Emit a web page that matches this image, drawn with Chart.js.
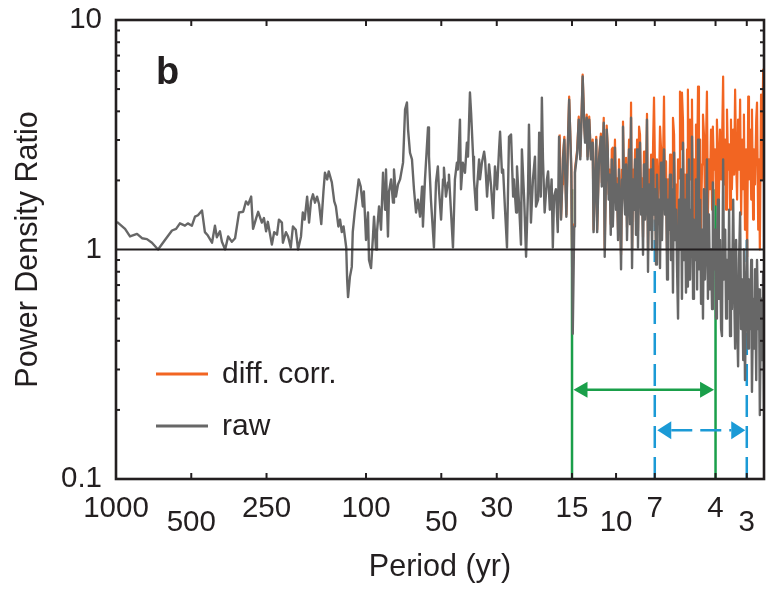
<!DOCTYPE html>
<html>
<head>
<meta charset="utf-8">
<script src="https://cdn.jsdelivr.net/npm/chart.js@4.4.1/dist/chart.umd.min.js"></script>
<style>
html,body{margin:0;padding:0;background:#ffffff;}
#wrap{width:766px;height:590px;position:relative;}
</style>
</head>
<body>
<div id="wrap"><canvas id="c" width="766" height="590"></canvas></div>
<script>
// ---------------- data ----------------
const rawPeriod = [
991,920,879,824,787,752,718,679,637,597,575,555,530,516,497,483,470,453,441,429,
413,402,395,384,377,366,356,344,334,322,310,302,296,288,283,275,270,261,256,251,
247,238,233,227,223,
217,215,209,205,200,196,191,187,182,179,176,172,169,166,163,160,157,154,151,148,
146,143,141,137,134,132,129,127,125,123,120,119,118,116,114,113,111,109,107,105,
103,102,100,98.2,97.3,95.5,93.8,92.9,91.2,90.4,88.7,87.1,85.5,83.9,83.2,81.7,80.9,79.4,78.0,77.3,
75.9,74.5,73.1,
71.1,69.8,68.6,67.9,66.7,65.5,64.3,63.1,62.0,60.8,59.7,59.2,58.1,56.5,56.0,55.0,53.5,52.5,51.6,51.1,
50.1,49.2,48.8,47.9,47.0,46.6,45.7,44.9,44.1,43.3,42.9,42.1,41.7,41.0,40.2,39.5,39.1,38.4,38.0,37.3,
37.0,36.3,36.0,35.3,35.0,34.4,33.7,33.4,32.8,32.2,31.6,31.0,30.5,29.9,29.4,29.1,28.6,28.3,27.8,27.3,
26.8,26.3,25.8,25.6,25.1,24.9,24.4,24.0,23.8,23.3,22.9,22.5,22.3,21.9,21.5,21.1,20.9,20.5,20.3,20.0,
19.8,19.6,19.3,18.9,18.7,18.4,18.1,17.9,17.7,17.4,17.1,16.9,16.6,16.3,16.1,15.8,15.6,15.4,15.1,15.0,
14.9,14.7,14.6,14.3,14.1,13.9,13.7,13.6,13.4,13.3,13.1,13.0,12.8,12.6,12.4,12.3,12.0,11.9,11.7,11.5,
11.4,11.2,11.1,10.9,10.8,
10.7,10.6,10.5,10.4,10.3,10.2,10.1,10.0,9.91,9.82,9.73,9.64,9.55,9.46,9.38,9.29,9.20,9.12,9.04,8.95,
8.87,8.79,8.71,8.63,8.55,8.47,8.39,8.32,8.24,8.17,8.09,8.02,7.94,7.87,7.80,7.73,7.66,7.59,7.52,7.45,
7.38,7.31,7.24,7.18,7.11,7.05,6.98,6.92,6.86,6.79,6.73,6.67,6.61,6.55,6.49,6.43,6.37,6.31,6.25,6.20,
6.14,6.08,6.03,5.97,5.92,5.86,5.81,5.75,5.70,5.65,5.60,5.55,5.50,5.45,5.40,5.35,5.30,5.25,5.20,5.16,
5.11,5.06,5.01,4.97,4.92,4.88,4.83,4.79,4.74,4.70,4.66,4.61,4.57,4.53,4.49,4.45,4.41,4.37,4.33,4.29,
4.25,4.21,4.17,4.13,4.10,4.06,4.02,3.98,3.95,3.91,3.88,3.84,3.80,3.77,3.73,3.70,3.66,3.63,3.60,3.56,
3.53,3.50,3.47,3.44,3.40,3.37,3.34,3.31,3.28,3.25,3.22,3.19,3.16,3.13,3.10,3.08,3.05,3.02,2.99,2.96,
2.94,2.91,2.88,2.86,2.83,2.81,2.78,2.75,2.73,2.70,2.68,2.66,2.63,2.61,2.58,2.56
];
const rawRatio = [
1.32,1.23,1.14,1.17,1.12,1.11,1.07,1.00,1.10,1.21,1.23,1.30,1.27,1.30,1.27,1.39,1.41,1.48,1.19,1.15,
1.07,1.27,1.13,1.20,1.08,1.00,1.14,1.08,1.12,1.45,1.46,1.62,1.57,1.70,1.23,1.37,1.46,1.31,1.37,1.20,
1.32,1.05,1.19,1.16,1.35,
1.31,1.07,1.19,1.14,1.02,1.26,1.22,1.00,1.14,1.45,1.35,1.70,1.31,1.62,1.74,1.60,1.70,1.57,1.29,1.79,
2.16,2.02,2.19,1.96,1.62,1.54,1.26,1.35,1.19,1.26,1.02,0.74,0.62,0.76,0.84,1.19,1.45,1.70,2.02,1.88,
1.54,1.79,1.10,1.45,0.90,0.83,1.14,1.39,1.00,1.19,1.54,1.22,2.16,1.49,2.23,1.14,1.79,2.02,1.60,2.23,
1.70,1.92,2.02,
2.39,4.07,4.37,3.33,2.64,2.47,1.83,1.45,1.65,1.39,1.88,1.26,2.02,3.40,2.54,1.65,1.02,1.96,2.30,1.83,
1.35,2.02,2.27,1.70,1.96,2.12,1.45,1.02,2.02,2.39,2.23,3.68,1.83,2.39,2.16,2.92,2.54,4.83,3.95,2.54,
2.02,1.49,1.83,2.47,2.02,2.39,2.67,2.47,1.70,2.35,1.88,1.37,2.30,1.83,2.67,3.26,2.16,2.23,1.49,1.02,
3.10,3.17,1.70,2.02,1.45,2.30,1.54,1.05,2.73,1.65,0.93,1.79,3.50,1.31,2.02,2.54,1.54,1.65,3.23,1.70,
4.59,2.47,1.45,2.02,2.19,1.49,2.02,1.02,1.70,1.83,1.19,3.10,1.35,2.47,3.01,1.39,2.73,4.50,2.23,1.00,
0.43,1.26,2.16,2.64,3.68,2.47,4.19,5.67,3.43,2.92,3.75,2.47,3.68,2.47,2.92,1.19,3.01,1.19,2.47,3.10,
1.88,3.57,0.93,3.33,2.73,
1.65,2.12,1.16,2.47,1.26,1.83,2.78,1.49,1.92,1.10,2.23,1.57,0.82,2.02,3.43,1.74,1.42,2.35,1.10,1.83,
2.73,1.29,3.75,0.83,2.02,1.49,2.47,1.16,2.73,1.02,2.12,2.92,1.42,1.83,0.95,2.35,1.35,1.65,3.68,0.80,
1.92,1.22,2.23,1.00,2.47,1.42,1.83,0.86,2.12,1.29,1.65,0.83,2.39,1.10,1.92,2.73,1.42,2.02,0.74,1.65,
1.22,2.12,0.90,1.83,0.65,2.64,1.10,1.49,0.82,0.50,1.65,1.00,2.23,0.61,2.92,0.90,1.65,0.65,2.12,0.69,
2.47,0.74,1.49,3.10,0.61,1.35,0.90,2.02,0.67,3.01,0.82,1.65,0.58,1.22,0.50,1.83,0.74,1.10,2.47,0.61,
1.42,0.67,1.00,0.55,1.96,0.82,1.22,0.50,1.00,1.65,0.61,1.10,0.45,0.42,2.47,0.74,1.22,0.50,0.90,0.61,
1.49,0.42,1.00,0.55,1.65,0.67,0.37,1.10,0.50,0.31,0.90,1.45,0.45,0.74,0.33,1.00,0.27,0.61,1.10,0.37,
0.74,0.45,0.90,0.24,0.61,0.37,0.82,0.27,0.90,0.45,0.67,0.19,0.61,0.33,0.79,0.20
];
const corrPeriod = [
16.8,16.6,16.4,16.3,16.1,15.8,15.6,15.4,15.1,15.0,14.7,14.6,14.3,14.1,13.9,13.7,13.6,13.4,13.3,13.1,
13.0,12.8,12.6,12.4,12.3,12.0,11.9,11.7,11.5,11.4,11.2,11.1,10.9,10.8,
10.7,10.6,10.5,10.4,10.3,10.2,10.1,10.0,9.91,9.82,9.73,9.64,9.55,9.46,9.38,9.29,9.20,9.12,9.04,8.95,
8.87,8.79,8.71,8.63,8.55,8.47,8.39,8.32,8.24,8.17,8.09,8.02,7.94,7.87,7.80,7.73,7.66,7.59,7.52,7.45,
7.38,7.31,7.24,7.18,7.11,7.05,6.98,6.92,6.86,6.79,6.73,6.67,6.61,6.55,6.49,6.43,6.37,6.31,6.25,6.20,
6.14,6.08,6.03,5.97,5.92,5.86,5.81,5.75,5.70,5.65,5.60,5.55,5.50,5.45,5.40,5.35,5.30,5.25,5.20,5.16,
5.11,5.06,5.01,4.97,4.92,4.88,4.83,4.79,4.74,4.70,4.66,4.61,4.57,4.53,4.49,4.45,4.41,4.37,4.33,4.29,
4.25,4.21,4.17,4.13,4.10,4.06,4.02,3.98,3.95,3.91,3.88,3.84,3.80,3.77,3.73,3.70,3.66,3.63,3.60,3.56,
3.53,3.50,3.47,3.44,3.40,3.37,3.34,3.31,3.28,3.25,3.22,3.19,3.16,3.13,3.10,3.08,3.05,3.02,2.99,2.96,
2.94,2.91,2.88,2.86,2.83,2.81,2.78,2.75,2.73,2.70,2.68,2.66,2.63,2.61,2.58,2.56
];
const corrRatio = [
3.17,1.37,1.92,2.54,3.10,1.42,2.81,4.64,2.27,1.02,1.29,2.23,2.73,3.79,2.54,4.32,5.78,3.54,3.01,3.87,
2.54,3.79,2.54,3.01,1.22,3.10,1.22,2.54,3.20,1.96,3.75,1.00,3.47,2.84,
1.74,2.23,1.29,2.73,2.78,1.92,3.01,1.57,2.04,1.22,2.47,1.70,0.95,2.23,3.61,1.86,1.57,2.51,1.25,2.02,
3.01,1.46,4.37,1.00,2.23,1.70,2.73,1.32,3.01,1.20,3.43,3.17,1.65,2.04,1.13,2.67,1.57,1.92,3.90,1.00,
2.23,1.46,2.59,1.20,2.87,4.59,2.12,1.05,2.47,1.57,1.92,3.43,2.78,1.35,2.27,4.64,1.74,2.42,0.95,2.02,
1.49,2.59,1.16,2.23,3.75,3.17,1.42,1.92,1.10,2.47,2.04,4.87,2.73,4.83,3.68,1.29,2.12,0.90,2.73,4.97,
1.49,3.68,2.02,4.50,1.22,2.47,1.74,3.50,2.23,5.13,1.65,3.01,1.22,2.35,3.87,3.17,1.65,2.73,4.87,1.42,
2.47,1.83,3.33,1.49,3.43,2.23,2.73,1.57,3.68,2.47,1.65,3.33,2.02,2.73,5.67,1.92,3.01,1.49,4.07,2.23,
2.87,1.49,3.68,1.83,3.33,2.12,4.97,2.47,1.65,3.68,2.23,4.50,1.42,3.01,1.83,3.87,1.22,2.73,0.93,4.64,
2.02,3.33,1.65,4.07,1.35,2.73,1.92,3.68,4.37,1.22,2.47,1.00,4.73,2.02,6.08,3.01
];
const seriesLabels = ['diff. corr.', 'raw'];
const xTickValues = [1000, 500, 250, 100, 50, 30, 15, 10, 7, 4, 3];
const xTickLowerRow = [500, 50, 10, 3];
const yTickValues = [0.1, 1, 10];
const yTickLabels = ['0.1', '1', '10'];
const yMinorTicks = [0.2,0.3,0.4,0.5,0.6,0.7,0.8,0.9,2,3,4,5,6,7,8,9];
const greenPeriods = [15, 4];      // solid green markers
const bluePeriods = [7, 3];        // dashed blue markers
const greenTopRatio = 1.83, greenArrowRatio = 0.245;
const blueTopRatio = 1.35, blueArrowRatio = 0.163;
const panelLetter = 'b';

// ---------------- styling ----------------
const INK = '#231f20';
const GRAY = '#676767';
const ORANGE = '#f26522';
const GREEN = '#1a9f4a';
const BLUE = '#1b9ad6';
const FONT = "'Liberation Sans', Arial, Helvetica, sans-serif";

const toPts = (xs, ys) => xs.map((p, i) => ({ x: p, y: ys[i] }));

function arrowHead(ctx, tipX, y, dir, len, half, color) {
  ctx.fillStyle = color;
  ctx.beginPath();
  ctx.moveTo(tipX, y);
  ctx.lineTo(tipX + dir * len, y - half);
  ctx.lineTo(tipX + dir * len, y + half);
  ctx.closePath();
  ctx.fill();
}

const decor = {
  id: 'decor',
  beforeDatasetsDraw(chart) {
    const { ctx, scales: { x, y } } = chart;
    const yb = y.getPixelForValue(0.1);
    ctx.save();
    ctx.lineCap = 'butt';
    ctx.strokeStyle = GREEN; ctx.lineWidth = 2.5; ctx.setLineDash([]);
    greenPeriods.forEach(p => {
      const px = x.getPixelForValue(p);
      ctx.beginPath(); ctx.moveTo(px, yb); ctx.lineTo(px, y.getPixelForValue(greenTopRatio)); ctx.stroke();
    });
    ctx.strokeStyle = BLUE; ctx.setLineDash([22, 9]);
    bluePeriods.forEach(p => {
      const px = x.getPixelForValue(p);
      ctx.beginPath(); ctx.moveTo(px, yb); ctx.lineTo(px, y.getPixelForValue(blueTopRatio)); ctx.stroke();
    });
    {
      const x1 = x.getPixelForValue(greenPeriods[0]) + 1.5;
      const x2 = x.getPixelForValue(greenPeriods[1]) - 1.5;
      const yy = y.getPixelForValue(greenArrowRatio);
      ctx.setLineDash([]); ctx.strokeStyle = GREEN; ctx.lineWidth = 2.5;
      ctx.beginPath(); ctx.moveTo(x1 + 10, yy); ctx.lineTo(x2 - 10, yy); ctx.stroke();
      arrowHead(ctx, x1, yy, 1, 14, 8, GREEN);
      arrowHead(ctx, x2, yy, -1, 14, 8, GREEN);
    }
    {
      const x1 = x.getPixelForValue(bluePeriods[0]) + 2.5;
      const x2 = x.getPixelForValue(bluePeriods[1]) - 1.5;
      const yy = y.getPixelForValue(blueArrowRatio);
      ctx.strokeStyle = BLUE; ctx.lineWidth = 2.5; ctx.setLineDash([21, 8]);
      ctx.beginPath(); ctx.moveTo(x1 + 14, yy); ctx.lineTo(x2 - 14, yy); ctx.stroke();
      ctx.setLineDash([]);
      arrowHead(ctx, x1, yy, 1, 14, 9, BLUE);
      arrowHead(ctx, x2, yy, -1, 14, 9, BLUE);
    }
    ctx.restore();
  },
  afterDatasetsDraw(chart) {
    const { ctx, chartArea: a, scales: { x, y } } = chart;
    ctx.save();
    ctx.setLineDash([]);
    const y1 = y.getPixelForValue(1);
    ctx.strokeStyle = INK; ctx.lineWidth = 1.8;
    ctx.beginPath(); ctx.moveTo(a.left, y1); ctx.lineTo(a.right, y1); ctx.stroke();
    ctx.lineWidth = 2;
    xTickValues.forEach(v => {
      const px = x.getPixelForValue(v);
      if (px <= a.left + 2 || px >= a.right - 2) return;
      ctx.beginPath(); ctx.moveTo(px, a.bottom); ctx.lineTo(px, a.bottom - 6); ctx.stroke();
      ctx.beginPath(); ctx.moveTo(px, a.top); ctx.lineTo(px, a.top + 6); ctx.stroke();
    });
    yMinorTicks.forEach(v => {
      const py = y.getPixelForValue(v);
      ctx.beginPath(); ctx.moveTo(a.left, py); ctx.lineTo(a.left + 4, py); ctx.stroke();
      ctx.beginPath(); ctx.moveTo(a.right, py); ctx.lineTo(a.right - 4, py); ctx.stroke();
    });
    ctx.lineWidth = 2.6;
    ctx.strokeRect(a.left, a.top, a.right - a.left, a.bottom - a.top);
    ctx.fillStyle = INK;
    ctx.font = 'bold 38px ' + FONT;
    ctx.textAlign = 'left'; ctx.textBaseline = 'alphabetic';
    ctx.fillText(panelLetter, 156, 84);
    const ds = chart.data.datasets;
    const order = [ds.find(d => d.label === seriesLabels[0]), ds.find(d => d.label === seriesLabels[1])];
    const rows = [374, 426];
    ctx.font = '30px ' + FONT;
    ctx.textBaseline = 'middle';
    order.forEach((d, i) => {
      ctx.strokeStyle = d.borderColor; ctx.lineWidth = 3.2;
      ctx.beginPath(); ctx.moveTo(156, rows[i]); ctx.lineTo(208, rows[i]); ctx.stroke();
      ctx.fillStyle = INK;
      ctx.fillText(d.label, 222, rows[i] + 1);
    });
    ctx.restore();
  }
};

new Chart(document.getElementById('c'), {
  type: 'line',
  data: {
    datasets: [
      { label: seriesLabels[1], data: toPts(rawPeriod, rawRatio), borderColor: GRAY, borderWidth: 2.4,
        pointRadius: 0, tension: 0, order: 0, borderJoinStyle: 'round' },
      { label: seriesLabels[0], data: toPts(corrPeriod, corrRatio), borderColor: ORANGE, borderWidth: 2.2,
        pointRadius: 0, tension: 0, order: 1, borderJoinStyle: 'round' }
    ]
  },
  options: {
    responsive: false,
    animation: false,
    devicePixelRatio: 1,
    layout: { padding: { top: 20, right: 2, left: 0, bottom: 0 } },
    plugins: { legend: { display: false }, tooltip: { enabled: false } },
    scales: {
      x: {
        type: 'logarithmic', reverse: true, min: 2.56, max: 1000, bounds: 'data',
        afterBuildTicks: s => { s.ticks = xTickValues.map(v => ({ value: v })); },
        afterFit: s => { s.height = 111; },
        grid: { display: false, drawTicks: false },
        border: { display: false },
        ticks: {
          autoSkip: false, maxRotation: 0, minRotation: 0, padding: 9.75, color: INK,
          font: { family: FONT, size: 29.5, lineHeight: '13.5px' },
          callback: v => xTickLowerRow.includes(v) ? ['', '', String(v)] : ['', String(v)]
        },
        title: { display: true, text: 'Period (yr)', color: INK,
          font: { family: FONT, size: 30.5, lineHeight: 1.2 }, padding: { top: 0, bottom: 4 } }
      },
      y: {
        type: 'logarithmic', min: 0.1, max: 10, bounds: 'data',
        afterBuildTicks: s => { s.ticks = yTickValues.map(v => ({ value: v })); },
        afterFit: s => { s.width = 116; },
        grid: { display: false, drawTicks: false },
        border: { display: false },
        ticks: {
          autoSkip: false, padding: 14, color: INK,
          font: { family: FONT, size: 29.5, lineHeight: '6px' },
          callback: v => yTickLabels[yTickValues.indexOf(v)]
        },
        title: { display: true, text: 'Power Density Ratio', color: INK,
          font: { family: FONT, size: 30.5, lineHeight: 1.2 }, padding: { top: 10, bottom: 0 } }
      }
    }
  },
  plugins: [decor]
});
</script>
</body>
</html>
